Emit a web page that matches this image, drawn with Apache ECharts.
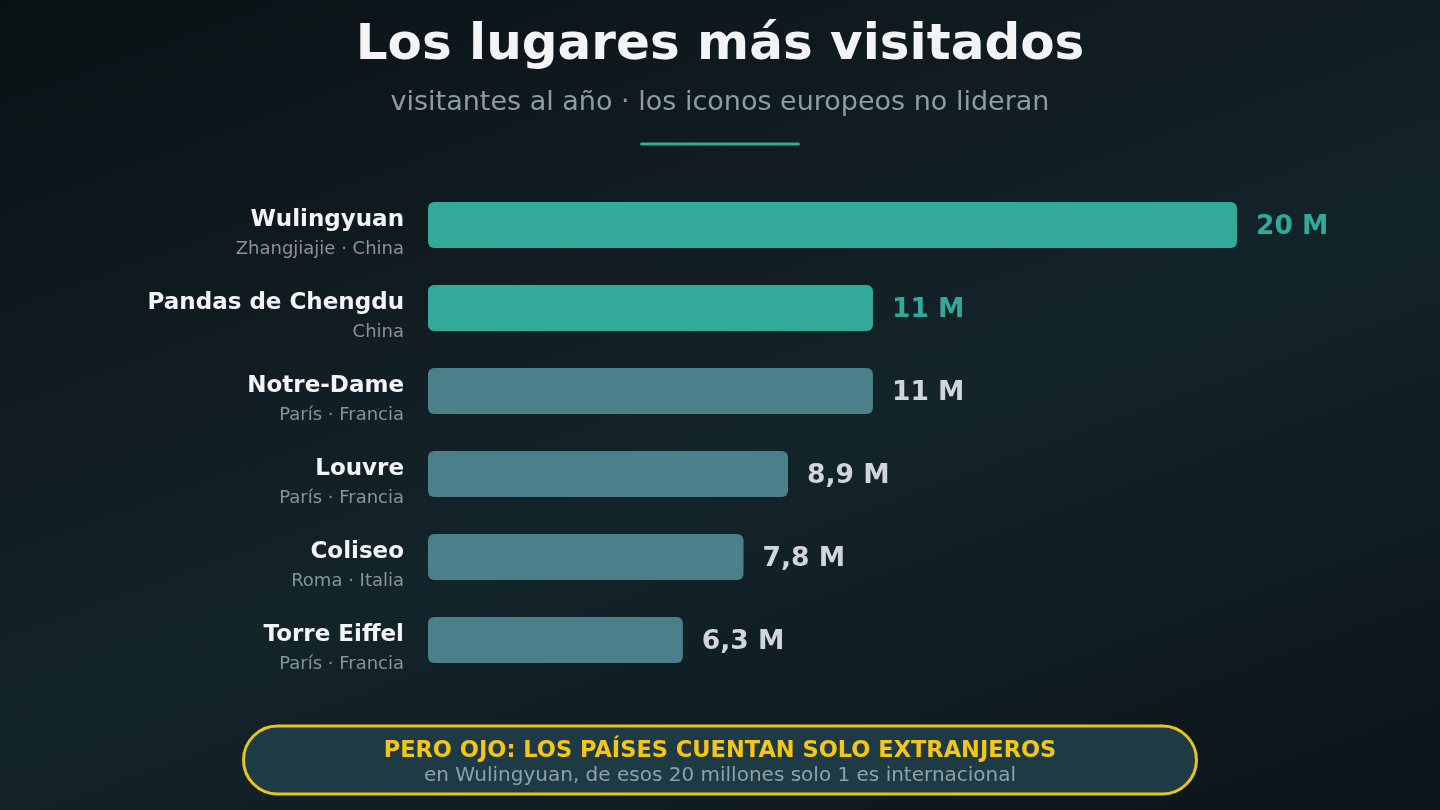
<!DOCTYPE html>
<html>
<head>
<meta charset="utf-8">
<script src="https://cdn.jsdelivr.net/npm/echarts@6/dist/echarts.min.js"></script>
<style>
html,body{margin:0;padding:0;width:1440px;height:810px;overflow:hidden;
background:linear-gradient(160deg,#0a1115 0%,#111d22 35%,#13242a 55%,#0b1418 100%);}
#chart{width:1440px;height:810px;}
</style>
</head>
<body>
<div id="chart"></div>
<script>
var places = ['Wulingyuan','Pandas de Chengdu','Notre-Dame','Louvre','Coliseo','Torre Eiffel'];
var locations = ['Zhangjiajie · China','China','París · Francia','París · Francia','Roma · Italia','París · Francia'];
var visitors = [20, 11, 11, 8.9, 7.8, 6.3];
var highlighted = [true, true, false, false, false, false];

var FONT = 'DejaVu Sans';
var TEAL = '#33a99a';
var MUTED = '#4b7f8a';

function fmt(v){
  return (Number.isInteger(v) ? String(v) : v.toFixed(1).replace('.', ',')) + ' M';
}

var chart = echarts.init(document.getElementById('chart'), null, {renderer:'canvas'});
chart.setOption({
  backgroundColor: 'transparent',
  textStyle: {fontFamily: FONT},
  title: [{
    text: 'Los lugares más visitados',
    left: 'center', top: 16,
    textStyle: {fontFamily: FONT, fontSize: 50, fontWeight: 'bold', color: '#f2f4f5'}
  },{
    text: 'visitantes al año · los iconos europeos no lideran',
    left: 'center', top: 84,
    textStyle: {fontFamily: FONT, fontSize: 27, fontWeight: 'normal', color: '#8c9ea4'}
  }],
  grid: {left: 428, width: 809, top: 183.5, height: 498, containLabel: false},
  xAxis: {type: 'value', min: 0, max: 20, show: false},
  yAxis: {
    type: 'category', inverse: true, data: places,
    axisLine: {show: false}, axisTick: {show: false},
    axisLabel: {
      margin: 24,
      padding: [20, 0, 0, 0],
      formatter: function(v, i){ return '{n|' + v + '}\n{s|' + locations[i] + '}'; },
      rich: {
        n: {fontFamily: FONT, fontSize: 23, fontWeight: 'bold', color: '#f2f4f5', lineHeight: 28, align: 'right'},
        s: {fontFamily: FONT, fontSize: 18, color: '#86959b', lineHeight: 30, align: 'right'}
      }
    }
  },
  series: [{
    type: 'bar',
    barWidth: 46,
    data: visitors.map(function(v, i){
      return {
        value: v,
        itemStyle: {color: highlighted[i] ? TEAL : MUTED, borderRadius: 6},
        label: {color: highlighted[i] ? TEAL : '#d0d6dc'}
      };
    }),
    label: {
      show: true, position: 'right', distance: 19, offset: [0, 2],
      fontFamily: FONT, fontSize: 26.5, fontWeight: 'bold',
      formatter: function(p){ return fmt(p.value); }
    },
    silent: true
  }],
  graphic: [
    {type: 'rect', shape: {x: 640, y: 142.5, width: 160, height: 3, r: 1.5}, style: {fill: TEAL}},
    {type: 'rect', shape: {x: 243.5, y: 726, width: 953, height: 68, r: 34},
     style: {fill: '#1d3a45', stroke: '#e9c41c', lineWidth: 3}},
    {type: 'text', x: 720, y: 751, style: {text: 'PERO OJO: LOS PAÍSES CUENTAN SOLO EXTRANJEROS',
      fill: '#f5c518', font: 'bold 22.5px "DejaVu Sans"', align: 'center', verticalAlign: 'middle'}},
    {type: 'text', x: 720, y: 776, style: {text: 'en Wulingyuan, de esos 20 millones solo 1 es internacional',
      fill: '#8fa2a8', font: '20px "DejaVu Sans"', align: 'center', verticalAlign: 'middle'}}
  ]
});
</script>
</body>
</html>
